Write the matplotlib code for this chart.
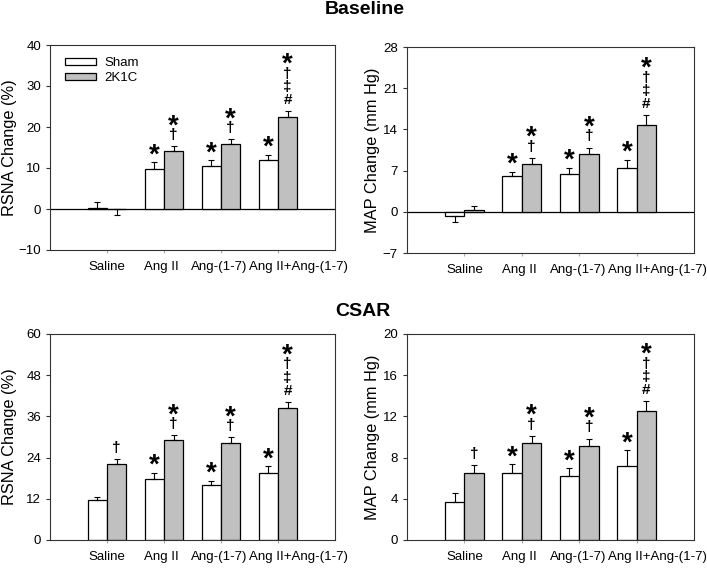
import numpy as np
import matplotlib
matplotlib.use('Agg')
import matplotlib.pyplot as plt
from matplotlib.patches import Patch

plt.rcParams['font.family'] = ['Liberation Sans', 'DejaVu Sans']

# 四组处理
categories = ['Saline', 'Ang II', 'Ang-(1-7)', 'Ang II+Ang-(1-7)']

# Baseline - RSNA
rsna_base_sham = [0.2, 9.75, 10.4, 11.9]
rsna_base_sham_err = [1.4, 1.65, 1.5, 1.3]
rsna_base_2k1c = [-0.1, 14.1, 15.9, 22.4]
rsna_base_2k1c_err = [1.4, 1.2, 1.1, 1.5]

# Baseline - MAP
map_base_sham = [-0.75, 6.05, 6.45, 7.47]
map_base_sham_err = [1.0, 0.75, 1.0, 1.4]
map_base_2k1c = [0.35, 8.15, 9.84, 14.8]
map_base_2k1c_err = [0.6, 1.0, 1.07, 1.6]

# CSAR - RSNA
rsna_csar_sham = [11.6, 17.9, 16.0, 19.6]
rsna_csar_sham_err = [1.0, 1.6, 1.3, 1.9]
rsna_csar_2k1c = [22.1, 29.1, 28.2, 38.4]
rsna_csar_2k1c_err = [1.4, 1.4, 1.7, 1.8]

# CSAR - MAP
map_csar_sham = [3.66, 6.48, 6.19, 7.2]
map_csar_sham_err = [0.95, 0.88, 0.78, 1.5]
map_csar_2k1c = [6.48, 9.4, 9.14, 12.48]
map_csar_2k1c_err = [0.78, 0.68, 0.71, 1.0]

# 显著性标记（从上到下）
base_sham_marks = ['', '*', '*', '*']
base_2k1c_marks = ['', '*†', '*†', '*†‡#']
csar_sham_marks = ['', '*', '*', '*']
csar_2k1c_marks = ['†', '*†', '*†', '*†‡#']

W, H = 707, 568
fig = plt.figure(figsize=(W / 100, H / 100), dpi=100)

edge = '#333333'
gray = '#c0c0c0'
width = 0.34
# 类别标签的水平偏移（points），最后一个太长往右挪
label_shift = [0, -2, -1, 15]


def px_box(l, t, r, b):
    # 像素坐标 -> figure 比例
    return [l / W, 1 - b / H, (r - l) / W, (b - t) / H]


def put_marks(ax, x, top, marks):
    # 从误差线顶端往上堆叠符号
    stack = list(marks)[::-1]
    for i, s in enumerate(stack):
        off = 8 + i * 9.5
        if s == '*':
            ax.annotate(s, xy=(x, top), xytext=(0, off - 3), textcoords='offset points',
                        ha='center', va='center', fontsize=20, fontweight='bold')
        else:
            ax.annotate(s, xy=(x, top), xytext=(0, off), textcoords='offset points',
                        ha='center', va='center', fontsize=11, fontweight='bold')


def draw_panel(box, sham, sham_err, k1c, k1c_err, ylim, yticks, ylabel, ylabel_x,
               sham_marks, k1c_marks, zero_line=False, legend=False):
    ax = fig.add_axes(px_box(*box))
    x = np.arange(1, len(categories) + 1)
    for vals, errs, off, color, marks in [(sham, sham_err, -width / 2, 'white', sham_marks),
                                          (k1c, k1c_err, width / 2, gray, k1c_marks)]:
        vals = np.array(vals)
        errs = np.array(errs)
        ax.bar(x + off, vals, width, color=color, edgecolor='black', linewidth=0.9, zorder=2)
        lower = np.where(vals < 0, errs, 0)
        upper = np.where(vals >= 0, errs, 0)
        ax.errorbar(x + off, vals, yerr=[lower, upper], fmt='none', ecolor='black',
                    elinewidth=0.8, capsize=2.5, capthick=0.8, zorder=3)
        for xi, v, e, m in zip(x + off, vals, errs, marks):
            if m:
                put_marks(ax, xi, v + e, m)
    if zero_line:
        ax.axhline(0, color='black', linewidth=0.9, zorder=1)
    ax.set_xlim(0, 5)
    ax.set_ylim(*ylim)
    ax.set_yticks(yticks)
    ax.set_xticks(x)
    ax.set_xticklabels([])
    # 类别标签用 annotate 画，便于微调位置
    for xi, name, dx in zip(x, categories, label_shift):
        ax.annotate(name, xy=(xi, 0), xycoords=ax.get_xaxis_transform(),
                    xytext=(dx, -8), textcoords='offset points',
                    ha='center', va='top', fontsize=9.5)
    ax.tick_params(axis='y', labelsize=9.5, length=3, direction='out', color=edge)
    ax.tick_params(axis='x', length=2, direction='out', color='#aaaaaa')
    ax.set_ylabel(ylabel, fontsize=11.8)
    ax.yaxis.set_label_coords(ylabel_x, 0.5)
    for sp in ax.spines.values():
        sp.set_color(edge)
        sp.set_linewidth(0.8)
    if legend:
        handles = [Patch(facecolor='white', edgecolor='black', linewidth=0.9, label='Sham'),
                   Patch(facecolor=gray, edgecolor='black', linewidth=0.9, label='2K1C')]
        ax.legend(handles=handles, loc='upper left', frameon=False, fontsize=9.5,
                  handlelength=2.4, handleheight=0.45, handletextpad=0.6,
                  labelspacing=0.25, borderaxespad=0.5, bbox_to_anchor=(0.01, 1.0))
    return ax


draw_panel((50, 45, 335, 250), rsna_base_sham, rsna_base_sham_err,
           rsna_base_2k1c, rsna_base_2k1c_err, (-10, 40), range(-10, 41, 10),
           'RSNA Change (%)', -0.116, base_sham_marks, base_2k1c_marks,
           zero_line=True, legend=True)
draw_panel((407, 47, 694, 253), map_base_sham, map_base_sham_err,
           map_base_2k1c, map_base_2k1c_err, (-7, 28), range(-7, 29, 7),
           'MAP Change (mm Hg)', -0.094, base_sham_marks, base_2k1c_marks, zero_line=True)
draw_panel((50, 334, 335, 540), rsna_csar_sham, rsna_csar_sham_err,
           rsna_csar_2k1c, rsna_csar_2k1c_err, (0, 60), range(0, 61, 12),
           'RSNA Change (%)', -0.116, csar_sham_marks, csar_2k1c_marks)
draw_panel((407, 334, 694, 540), map_csar_sham, map_csar_sham_err,
           map_csar_2k1c, map_csar_2k1c_err, (0, 20), range(0, 21, 4),
           'MAP Change (mm Hg)', -0.094, csar_sham_marks, csar_2k1c_marks)

fig.text(365 / W, 1 - 10 / H, 'Baseline', ha='center', va='center', fontsize=14, fontweight='bold')
fig.text(363 / W, 1 - 312 / H, 'CSAR', ha='center', va='center', fontsize=14, fontweight='bold')

fig.savefig('out.png', dpi=100)
